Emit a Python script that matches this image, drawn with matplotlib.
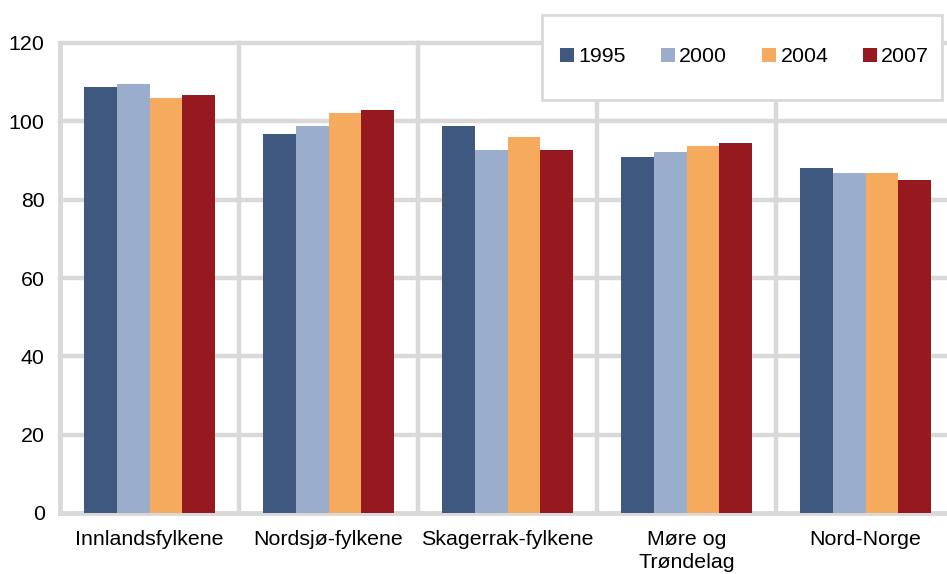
import numpy as np
import matplotlib.pyplot as plt
from matplotlib.patches import Rectangle

plt.rcParams['font.family'] = ['Liberation Sans', 'DejaVu Sans']

# data
regions = ['Innlandsfylkene', 'Nordsjø-fylkene', 'Skagerrak-fylkene', 'Møre og\nTrøndelag', 'Nord-Norge']
years = ['1995', '2000', '2004', '2007']
v1995 = [108.8, 96.7, 98.7, 90.8, 88.0]
v2000 = [109.5, 98.7, 92.8, 92.1, 86.9]
v2004 = [105.9, 102.1, 95.9, 93.6, 86.7]
v2007 = [106.7, 102.8, 92.6, 94.4, 85.1]
series = [v1995, v2000, v2004, v2007]
colors = ['#3E5880', '#9AADCD', '#F6AA5E', '#95191E']
grid_col = '#D9D9D9'

W, H = 947, 574
fs = 15.4
fig = plt.figure(figsize=(W / 100, H / 100), dpi=100)
# axes runs a bit past the right edge, like the original
ax = fig.add_axes([60 / W, (H - 513) / H, 895 / W, 470 / H])

x = np.arange(len(regions))
bw = 0.183
for i, (vals, c) in enumerate(zip(series, colors)):
    ax.bar(x + (i - 1.5) * bw, vals, width=bw, color=c, label=years[i], zorder=3)

ax.set_xlim(-0.5, len(regions) - 0.5)
ax.set_ylim(0, 120)
ax.set_yticks(np.arange(0, 121, 20))
ax.set_xticks(x)
ax.set_xticklabels(regions, fontsize=fs, linespacing=1.3)
ax.tick_params(axis='y', length=0, pad=11, labelsize=fs)
ax.tick_params(axis='x', length=0, pad=12)

# grid
for yv in np.arange(20, 121, 20):
    ax.axhline(yv, color=grid_col, lw=3.2, zorder=1, clip_on=False)
for xv in np.arange(0.5, len(regions), 1):
    ax.axvline(xv, color=grid_col, lw=3.2, zorder=1, clip_on=False)
for s in ['top', 'right']:
    ax.spines[s].set_visible(False)
for s in ['left', 'bottom']:
    ax.spines[s].set_color(grid_col)
    ax.spines[s].set_linewidth(3.5)
    ax.spines[s].set_zorder(2)

# legend box
fig.patches.append(Rectangle((542 / W, 1 - 100 / H), 400 / W, 85 / H,
                             transform=fig.transFigure, facecolor='white',
                             edgecolor=grid_col, lw=2, zorder=5))
leg = fig.legend(loc='center left', bbox_to_anchor=(560 / W, 1 - 57 / H), ncol=4,
                 frameon=False, fontsize=fs, borderpad=0, borderaxespad=0,
                 handlelength=0.66, handleheight=0.66, handletextpad=0.22,
                 columnspacing=1.6)
leg.set_zorder(6)

fig.savefig('out.png', dpi=100)
